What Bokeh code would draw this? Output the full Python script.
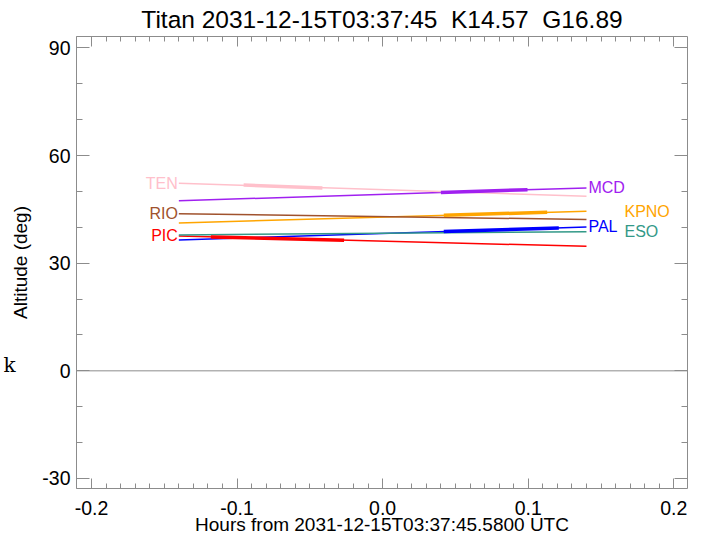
from bokeh.plotting import figure
from bokeh.models import (ColumnDataSource, Span, LinearAxis, FixedTicker,
                          SingleIntervalTicker, PrintfTickFormatter, Range1d)
from bokeh.core.properties import value
from bokeh.embed import file_html
from bokeh.resources import INLINE

# ---------------- data ----------------
STATIONS = ["PIC", "PAL", "ESO", "KPNO", "RIO", "MCD", "TEN"]
COLORS = ["#FF0000", "#0000FF", "#339988", "#FFA500", "#A0522D", "#A020F0", "#FFC0CB"]
T_START = [-0.14, -0.14, -0.14, -0.14, -0.14, -0.14, -0.14]
T_END = [0.14, 0.14, 0.14, 0.14, 0.14, 0.14, 0.14]
ALT_START = [37.6, 36.5, 37.9, 41.2, 43.8, 47.4, 52.3]
ALT_END = [34.7, 40.1, 38.8, 44.5, 42.2, 51.0, 48.7]

THICK_STATIONS = ["PIC", "PAL", "KPNO", "MCD", "TEN"]
THICK_COLORS = ["#FF0000", "#0000FF", "#FFA500", "#A020F0", "#FFC0CB"]
THICK_T0 = [-0.118, 0.042, 0.042, 0.040, -0.0955]
THICK_T1 = [-0.0265, 0.121, 0.113, 0.0995, -0.0414]
THICK_A0 = [37.3, 38.85, 43.35, 49.7, 51.8]
THICK_A1 = [36.4, 39.85, 44.2, 50.5, 51.0]

LEFT_LABELS = ["TEN", "RIO", "PIC"]
RIGHT_LABELS = ["MCD", "PAL"]
FAR_RIGHT_LABELS = ["KPNO", "ESO"]

X_TICKS_INTERVAL = 0.1
Y_TICKS_INTERVAL = 30
X_RANGE = (-0.2103, 0.2094)
Y_RANGE = (-32.8, 93.2)

NBSP2 = "\u00a0 "
TITLE = "Titan 2031-12-15T03:37:45" + NBSP2 + "K14.57" + NBSP2 + "G16.89"
X_TITLE = "Hours from 2031-12-15T03:37:45.5800 UTC"
Y_TITLE = "Altitude (deg)"
STRAY = "k"
STRAY_AT = 1.6

# ---------------- figure ----------------
FONT = "Liberation Sans"
GRAY = "#8C8C8C"

p = figure(frame_width=611, frame_height=452,
           min_border_left=76, min_border_right=14,
           min_border_top=36, min_border_bottom=51,
           x_range=Range1d(*X_RANGE), y_range=Range1d(*Y_RANGE),
           output_backend="svg", toolbar_location=None, title=TITLE,
           background_fill_color="white", border_fill_color="white")
p.outline_line_color = None
p.grid.visible = False

p.title.align = "center"
p.title.text_font = FONT
p.title.text_font_size = "24.5px"
p.title.text_font_style = "normal"
p.title.text_color = "black"
p.title.standoff = 7


def style_axis(ax, tick_in, minor_in, labels=True, standoff=6):
    ax.axis_line_color = GRAY
    ax.major_tick_line_color = GRAY
    ax.minor_tick_line_color = GRAY
    ax.major_tick_in = tick_in
    ax.major_tick_out = 0
    ax.minor_tick_in = minor_in
    ax.minor_tick_out = 0
    if labels:
        ax.major_label_text_font = FONT
        ax.major_label_text_font_size = "19.5px"
        ax.major_label_text_color = "black"
        ax.major_label_standoff = standoff
        ax.axis_label_text_font = FONT
        ax.axis_label_text_font_size = "19px"
        ax.axis_label_text_font_style = "normal"
        ax.axis_label_text_color = "black"
    else:
        ax.major_label_text_font_size = "0px"
        ax.major_label_standoff = 0


xt = SingleIntervalTicker(interval=X_TICKS_INTERVAL, num_minor_ticks=10)
yt = SingleIntervalTicker(interval=Y_TICKS_INTERVAL, num_minor_ticks=3)

xa = p.xaxis[0]
ya = p.yaxis[0]
xa.ticker = xt
xa.formatter = PrintfTickFormatter(format="%.1f")
ya.ticker = yt
ya.formatter = PrintfTickFormatter(format="%d")
style_axis(xa, 10, 5, True, 12)
style_axis(ya, 13, 6, True, 6)
xa.axis_label = X_TITLE
xa.axis_label_standoff = -4
ya.axis_label = Y_TITLE
ya.axis_label_standoff = 8

top = LinearAxis(ticker=xt)
style_axis(top, 10, 5, False)
p.add_layout(top, "above")
right = LinearAxis(ticker=yt)
style_axis(right, 13, 6, False)
p.add_layout(right, "right")

# stray "k" marker at the far left, drawn as a label-only axis
kaxis = LinearAxis(ticker=FixedTicker(ticks=[STRAY_AT]),
                   major_label_overrides={STRAY_AT: STRAY})
kaxis.axis_line_color = None
kaxis.major_tick_line_color = None
kaxis.minor_tick_line_color = None
kaxis.major_label_text_font = "DejaVu Serif"
kaxis.major_label_text_font_size = "20px"
kaxis.major_label_text_color = "black"
kaxis.major_label_standoff = -8
kaxis.major_tick_out = 0
kaxis.major_tick_in = 0
p.add_layout(kaxis, "left")

p.add_layout(Span(location=0, dimension="width", line_color=GRAY, line_width=1))

# thin lines
src = ColumnDataSource(dict(x0=T_START, x1=T_END, y0=ALT_START, y1=ALT_END,
                            color=COLORS, name=STATIONS))
p.segment("x0", "y0", "x1", "y1", source=src, line_color="color", line_width=1.5)

# thick portions
tsrc = ColumnDataSource(dict(x0=THICK_T0, x1=THICK_T1, y0=THICK_A0, y1=THICK_A1,
                             color=THICK_COLORS))
p.segment("x0", "y0", "x1", "y1", source=tsrc, line_color="color", line_width=3.5)

# station labels
idx = {s: i for i, s in enumerate(STATIONS)}


def add_labels(names, at_start, align, xoff):
    xs = [T_START[idx[n]] if at_start else T_END[idx[n]] for n in names]
    ys = [ALT_START[idx[n]] if at_start else ALT_END[idx[n]] for n in names]
    cs = [COLORS[idx[n]] for n in names]
    s = ColumnDataSource(dict(x=xs, y=ys, t=names, c=cs))
    p.text("x", "y", text="t", source=s, text_color="c",
           text_font=value(FONT), text_font_size=value("16px"),
           text_align=align, text_baseline="alphabetic", x_offset=xoff)


add_labels(LEFT_LABELS, True, "right", -1)
add_labels(RIGHT_LABELS, False, "left", 2)
add_labels(FAR_RIGHT_LABELS, False, "left", 38)

open("out.html", "w").write(file_html(p, INLINE))
